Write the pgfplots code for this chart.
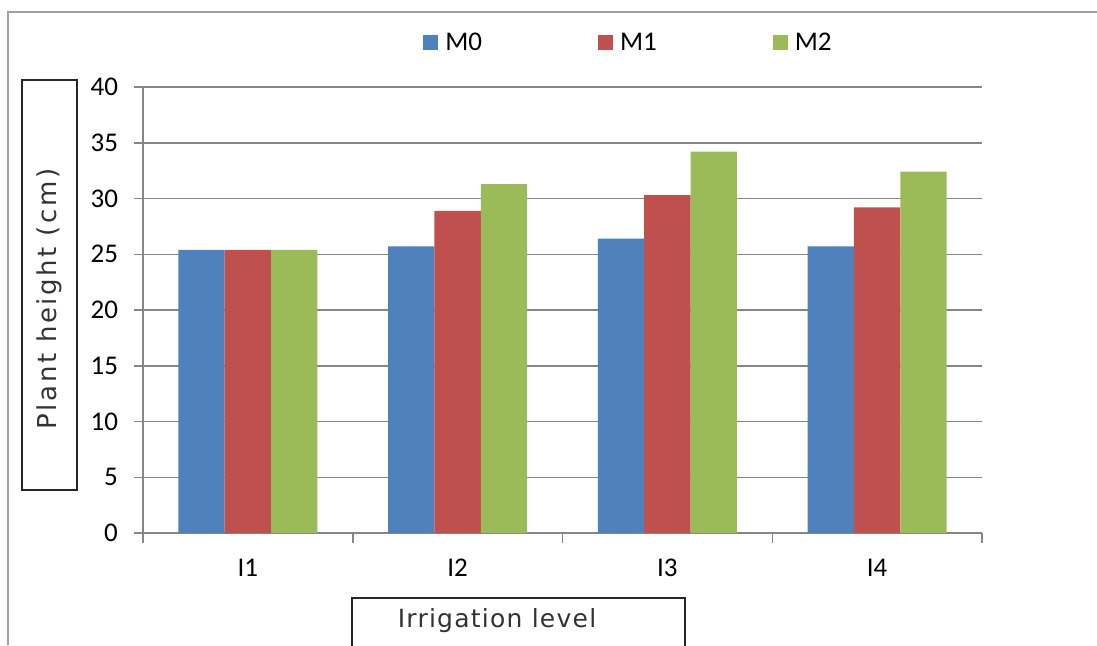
\documentclass[border=0pt]{standalone}
\usepackage{pgfplots}
\pgfplotsset{compat=1.18}
\usepackage{fontspec}
\setmainfont{Carlito}
\newfontfamily\ylabelfont[LetterSpace=10]{DejaVu Sans}
\newfontfamily\xlabelfont[LetterSpace=5]{DejaVu Sans}
\definecolor{mblue}{HTML}{4F81BD}
\definecolor{mred}{HTML}{C0504D}
\definecolor{mgreen}{HTML}{9BBB59}
\definecolor{gridgray}{HTML}{868686}
\definecolor{framegray}{HTML}{A0A0A0}
\begin{document}
\begin{tikzpicture}[x=0.5pt,y=0.5pt]
\useasboundingbox (0,0) rectangle (1097,645);
% outer chart frame (open to the right and bottom)
\draw[framegray, line width=1pt] (8,0) -- (8,633) -- (1097,633);
\begin{axis}[
  at={(71.5pt,56pt)}, anchor=south west,
  scale only axis, width=419.5pt, height=223pt,
  xmin=-0.5, xmax=3.5, ymin=0, ymax=40,
  ytick={0,5,...,40},
  xtick={0,1,2,3}, xticklabels={I1,I2,I3,I4},
  major x tick style={draw=none},
  extra x ticks={-0.5,0.5,1.5,2.5,3.5}, extra x tick labels={},
  extra x tick style={major tick length=5pt, major x tick style={draw=gridgray, line width=0.75pt}},
  ymajorgrids, grid style={gridgray, line width=0.75pt},
  axis x line*=bottom, axis y line*=left,
  axis line style={gridgray, line width=0.75pt, -},
  tick align=outside, major tick length=4.5pt,
  y tick style={gridgray, line width=0.75pt},
  ybar=0pt, bar width=23.15pt,
  tick label style={font=\fontsize{13.5}{15}\selectfont, text=black},
  yticklabel style={xshift=-4.5pt},
  xticklabel style={yshift=-5pt},
  /pgf/number format/assume math mode=true,
  legend columns=3,
  legend image code/.code={\fill[#1] (0pt,-3.75pt) rectangle (7.5pt,3.75pt);},
  legend style={at={(axis description cs:0.3337,1.0987)}, anchor=west,
    draw=none, fill=none, inner sep=0pt, font=\fontsize{13.5}{15}\selectfont,
    nodes={inner sep=0pt},
    /tikz/every odd column/.append style={column sep=3.5pt},
    /tikz/every even column/.append style={column sep=58pt}},
]
\addplot[fill=mblue, draw=none] coordinates {(0,25.4) (1,25.7) (2,26.4) (3,25.7)};
\addlegendentry{M0}
\addplot[fill=mred, draw=none] coordinates {(0,25.4) (1,28.9) (2,30.3) (3,29.2)};
\addlegendentry{M1}
\addplot[fill=mgreen, draw=none] coordinates {(0,25.4) (1,31.3) (2,34.2) (3,32.4)};
\addlegendentry{M2}
\end{axis}
% boxed axis titles
\draw[black!85, line width=0.8pt] (22,155) rectangle (77,565);
\node[rotate=90, text=black!80, font=\ylabelfont\fontsize{13}{15}\selectfont] at (49,346) {Plant height (cm)};
\draw[black!85, line width=0.8pt] (352,-15) -- (352,47) -- (685,47) -- (685,-15);
\node[text=black!80, font=\xlabelfont\fontsize{12.5}{15}\selectfont] at (497,24) {Irrigation level};
\end{tikzpicture}
\end{document}
